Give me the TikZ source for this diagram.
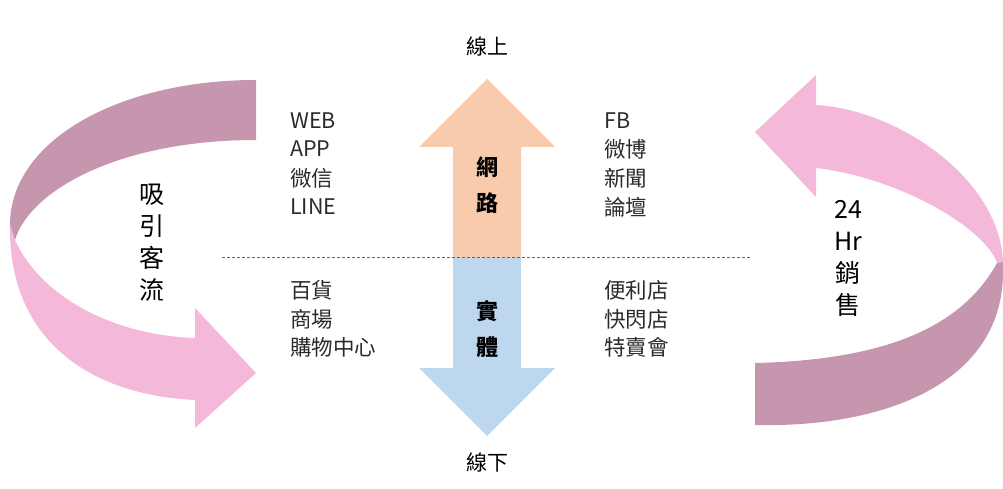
\documentclass[tikz,border=0pt]{standalone}
\usepackage{fontspec}
\setmainfont{Noto Sans CJK TC}
\definecolor{mauve}{HTML}{C696AE}
\definecolor{lpink}{HTML}{F4B8D8}
\definecolor{lorange}{HTML}{F8CBAD}
\definecolor{lblue}{HTML}{BDD7EE}
\definecolor{dashc}{HTML}{50688C}
\definecolor{txt}{HTML}{2A2A2A}
\begin{document}
\begin{tikzpicture}[x=1pt,y=-1pt,
  listtxt/.style={anchor=west,inner sep=0pt,text=txt,font=\fontsize{21.5}{25}\selectfont},
  vtxt/.style={align=center,inner sep=0pt,text=black,font=\fontsize{25}{32}\selectfont},
  arrtxt/.style={align=center,inner sep=0pt,text=black,font=\bfseries\fontsize{22}{36}\selectfont},
  toptxt/.style={inner sep=0pt,text=black,font=\fontsize{21}{25}\selectfont}]
\useasboundingbox (0,0) rectangle (1003,489);
% centre double arrow
\fill[lorange] (487,79) -- (555,147) -- (521,147) -- (521,257) -- (453,257) -- (453,147) -- (419,147) -- cycle;
\fill[lblue] (453,257) -- (521,257) -- (521,368) -- (555,368) -- (487,436) -- (419,368) -- (453,368) -- cycle;
\coordinate (dl) at (222,257);
\coordinate (dr) at (752,257);
\draw[dashc,line width=0.7pt,dash pattern=on 3pt off 2pt] (dl) -- (dr);
% left circular arrow
\fill[mauve] (256,80) .. controls (120,80) and (10,140) .. (10,225) -- (15,240)
  .. controls (30,190) and (120,140) .. (256,140) -- cycle;
\fill[lpink] (10,225) .. controls (8,340) and (90,395) .. (195,400) -- (195,428) -- (256,373)
  -- (195,308) -- (195,338) .. controls (110,335) and (40,295) .. (15,240) -- cycle;
% right circular arrow
\fill[lpink] (755,132) -- (816,75) -- (816,105) .. controls (900,110) and (1000,180) .. (1003,262)
  -- (997,263) .. controls (985,228) and (900,178) .. (816,168) -- (816,197) -- cycle;
\fill[mauve] (997,263) -- (1003,262) -- (1003,272) .. controls (1003,380) and (890,428) .. (755,425)
  -- (755,363) .. controls (880,360) and (960,330) .. (997,263) -- cycle;
% labels
\node[toptxt] (up) at (487,47) {線上};
\node[toptxt] (down) at (487,463) {線下};
\node[arrtxt] (net) at (487,185) {網\\路};
\node[arrtxt] (phy) at (487,329) {實\\體};
\node[vtxt] (left) at (152,243) {吸\\引\\客\\流};
\node[vtxt] (right) at (848,258) {24\\Hr\\銷\\售};
% lists
\node[listtxt] (l1) at (290,121) {WEB};
\node[listtxt] (l2) at (290,149) {APP};
\node[listtxt] (l3) at (290,178) {微信};
\node[listtxt] (l4) at (290,207) {LINE};
\node[listtxt] (l5) at (290,290) {百貨};
\node[listtxt] (l6) at (290,319) {商場};
\node[listtxt] (l7) at (290,347) {購物中心};
\node[listtxt] (r1) at (604,121) {FB};
\node[listtxt] (r2) at (604,149) {微博};
\node[listtxt] (r3) at (604,178) {新聞};
\node[listtxt] (r4) at (604,207) {論壇};
\node[listtxt] (r5) at (604,290) {便利店};
\node[listtxt] (r6) at (604,319) {快閃店};
\node[listtxt] (r7) at (604,347) {特賣會};
\end{tikzpicture}
\end{document}
